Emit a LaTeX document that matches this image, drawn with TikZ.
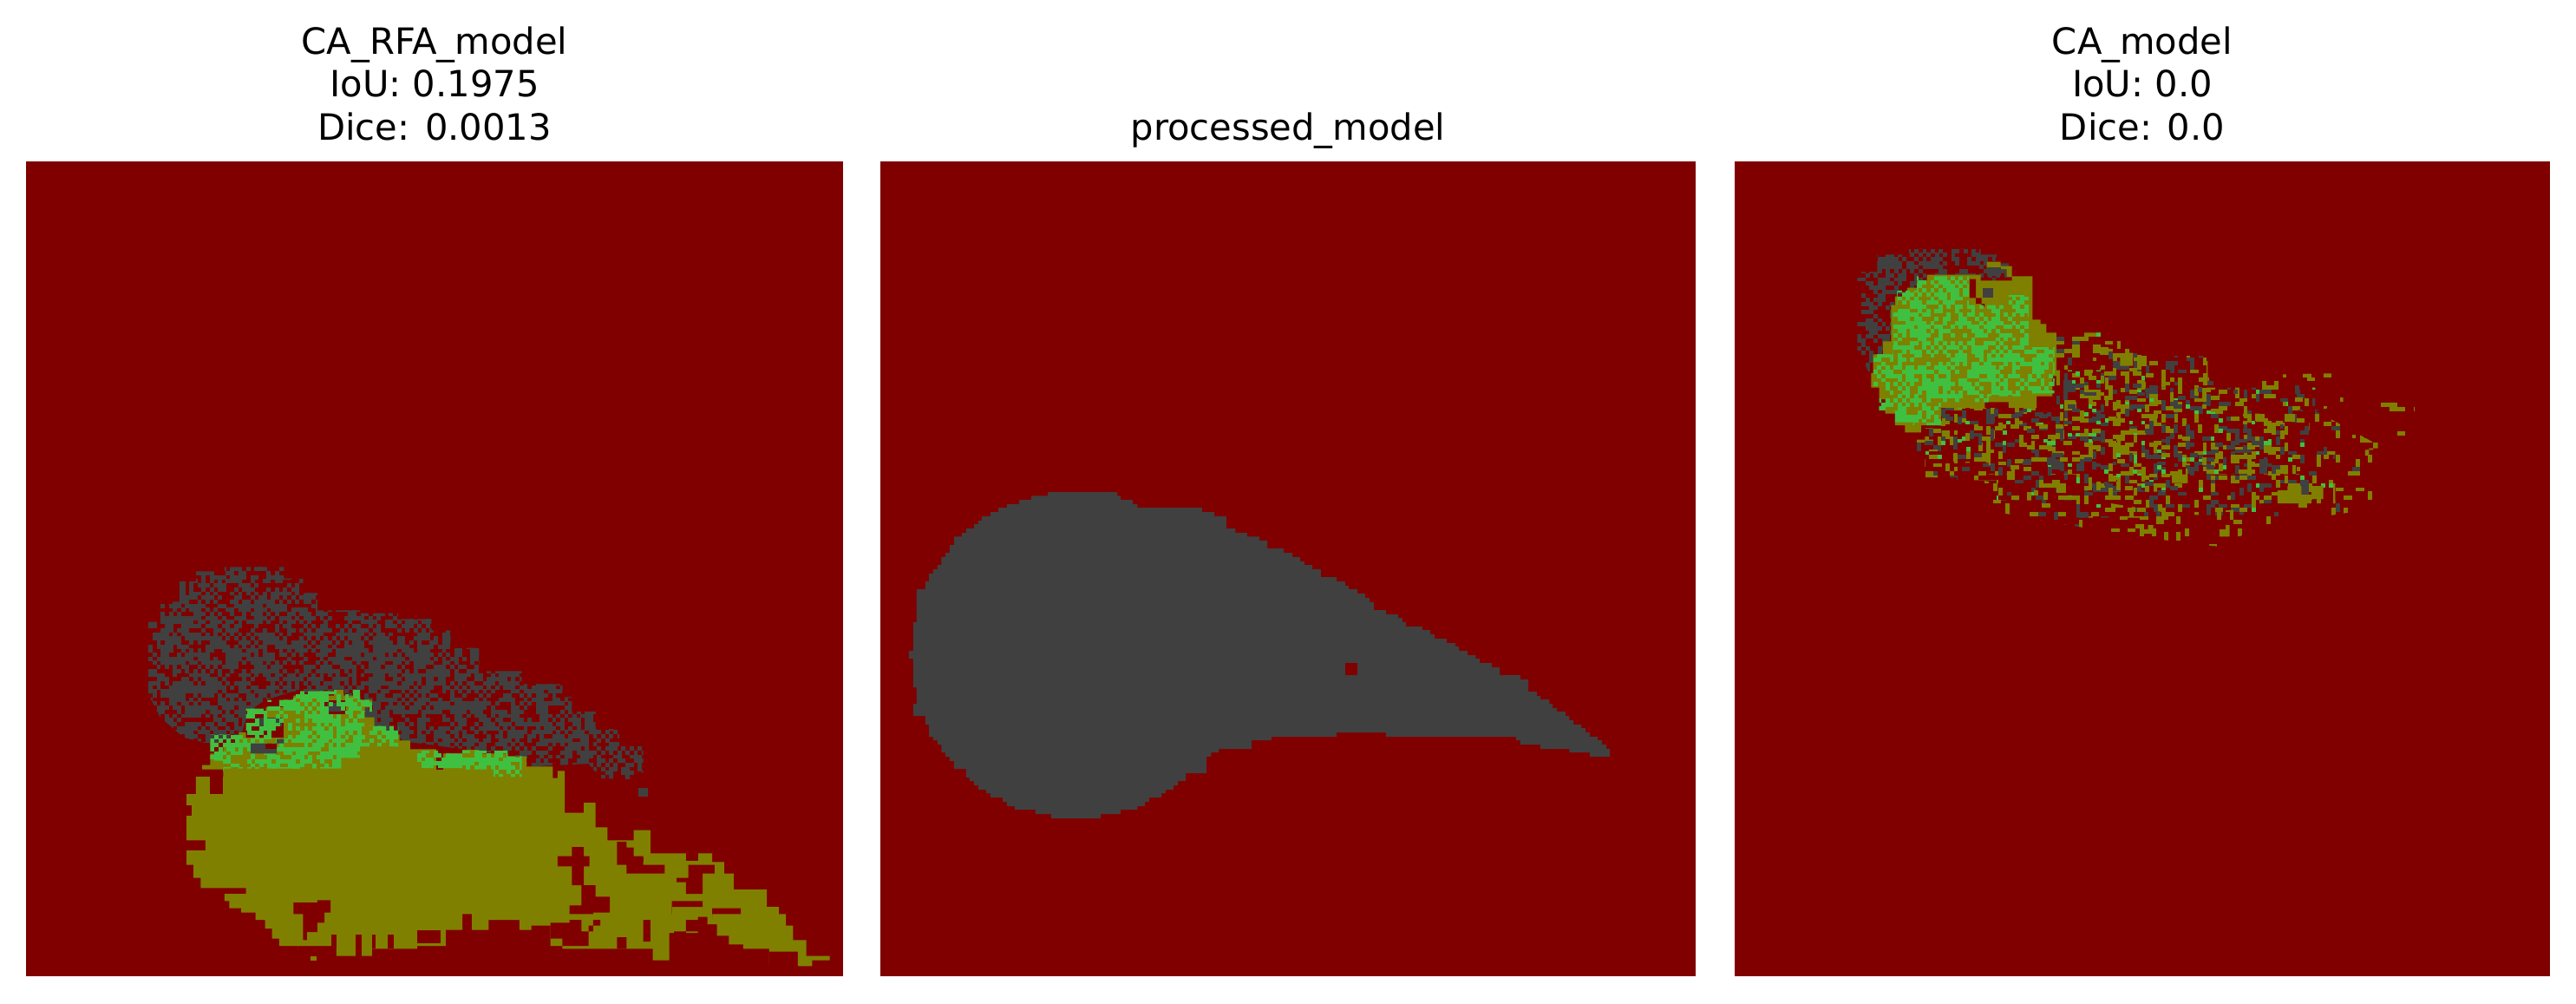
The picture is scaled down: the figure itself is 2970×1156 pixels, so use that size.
\documentclass[tikz,border=0pt]{standalone}
\usepackage{fontspec}
\setmainfont{DejaVu Sans}
\definecolor{bgred}{HTML}{800000}
\definecolor{segolive}{HTML}{808000}
\definecolor{segdark}{HTML}{404040}
\definecolor{seggreen}{HTML}{40C040}
\tikzset{
  titletext/.style={font=\fontsize{41.67}{50}\selectfont,anchor=base,inner sep=0pt,text=black},
  panelbg/.style={fill=bgred,draw=none},
  zoomA/.style={shift={(130,620)},xscale=0.5485,yscale=0.33333},
  zoomB/.style={shift={(1020,540)},xscale=0.5485,yscale=0.33333},
  zoomC/.style={shift={(2100,260)},xscale=0.4592,yscale=0.33333}
}
% one cell, with sometimes a diagonal neighbour
\newcommand{\cellat}[4]{% i j cw/ch colour: x0 y0 taken from \fx,\fy
  \fill[#4] ({\fx+#1*\fw},{\fy+#2*\fh}) rectangle +({\fw*1.04},{\fh*1.04});}
% xmin nx ymin ny cw ch p-even p-odd colour
\newcommand{\noisefield}[9]{%
  \def\fx{#1}\def\fy{#3}\def\fw{#5}\def\fh{#6}%
  \foreach \ii in {0,...,#2}{\foreach \jj in {0,...,#4}{%
    \pgfmathrandominteger{\rr}{0}{99}%
    \pgfmathrandominteger{\ss}{0}{9}%
    \ifodd\numexpr\ii+\jj\relax\def\pp{#8}\else\def\pp{#7}\fi
    \ifnum\rr<\pp\relax
      \cellat{\ii}{\jj}{}{#9}%
      \ifnum\ss<3\relax\cellat{(\ii+1)}{(\jj+1)}{}{#9}\fi
      \ifnum\ss>6\relax\cellat{(\ii+1)}{(\jj-1)}{}{#9}\fi
    \fi
  }}%
}
% xmin nx ymin ny pOlive pDark pGreen, zoom C cells
\newcommand{\tailfield}[7]{%
  \foreach \ii in {0,...,#2}{\foreach \jj in {0,...,#4}{%
    \pgfmathrandominteger{\rr}{0}{99}%
    \pgfmathrandominteger{\ss}{0}{9}%
    \ifnum\ss<5\relax\def\wd{20.5}\else\def\wd{10.3}\fi
    \ifnum\ss>5\relax\def\hd{28.2}\else\def\hd{14.1}\fi
    \ifnum\rr<#5\relax
      \fill[segolive] ({#1+\ii*10.24},{#3+\jj*14.1}) rectangle +(\wd,\hd);
    \else\ifnum\rr<\numexpr#5+#6\relax
      \fill[segdark] ({#1+\ii*10.24},{#3+\jj*14.1}) rectangle +(\wd,\hd);
    \else\ifnum\rr<\numexpr#5+#6+#7\relax
      \fill[seggreen] ({#1+\ii*10.24},{#3+\jj*14.1}) rectangle +(10.3,14.1);
    \fi\fi\fi
  }}%
}
\begin{document}
\begin{tikzpicture}[x=1pt,y=-1pt]
\useasboundingbox (0,0) rectangle (2970,1156);
\pgfmathsetseed{4711}

% titles
\node[titletext] (ta) at (501,62.7) {CA\_RFA\_model};
\node[titletext] (tb) at (501,111.7) {IoU: 0.1975};
\node[titletext] (tc) at (501,161.7) {Dice: 0.0013};
\node[titletext] (td) at (1485,161.7) {processed\_model};
\node[titletext] (te) at (2470,62.7) {CA\_model};
\node[titletext] (tf) at (2470,111.7) {IoU: 0.0};
\node[titletext] (tg) at (2470,161.7) {Dice: 0.0};

% panels
\fill[panelbg] (30,186) rectangle (972,1125);
\fill[panelbg] (1015,186) rectangle (1955,1125);
\fill[panelbg] (2000,186) rectangle (2940,1125);

% ---------- panel 1
\begin{scope}[zoomA]
  \begin{scope}
    \clip (75,380)|-(100,290)|-(140,220)|-(175,150)|-(235,115)|-(310,100)-|(360,140)-|(400,190)-|(430,250)-|(520,260)-|(600,280)-|(670,320)-|(710,380)-|(770,460)-|(860,505)-|(945,550)-|(965,600)-|(1015,660)-|(1065,720)-|(1115,810)--(1085,835)--(1025,830)--(1000,780)--(880,790)--(830,750)--(600,700)--(530,640)--(480,545)--(380,530)--(320,560)--(285,600)--(270,680)--(232,700)--(210,715)--(150,690)--(100,620)--(75,540)--cycle;
    \noisefield{75}{122}{100}{52}{8.57}{14.1}{66}{32}{segdark}
  \end{scope}
  \fill[segdark] (1105,865) rectangle (1125,895);
  % olive body
  \fill[segolive] (188,785) -| (205,745) -| (232,715) -| (265,672) -| (280,690) -| (290,640) -| (322,585) -| (358,560) -| (380,545) -| (412,530) -| (438,545) -| (465,525) -| (485,545) -| (520,560) -| (545,585) -| (530,620) -| (550,650) -| (575,680) -| (603,700) -| (625,730) -| (680,745) -| (735,732) -| (770,745) -| (830,755) -| (870,790) -| (905,790) -| (925,830) -| (935,805) -| (950,850) |- (960,950) -| (990,915) -| (1015,950) |- (1040,1000) |- (1055,1045) -| (1095,1010) -| (1130,1040) |- (1180,1090) -| (1260,1085) |- (1285,1120) |- (1305,1160) |- (1325,1215) -| (1375,1255) |- (1400,1275) |- (1415,1300) |- (1430,1340) |- (1458,1390) |- (1470,1445) -| (1507,1460) -| (1470,1480) -| (1440,1430) -| (1380,1475) -| (1380,1420) -| (1350,1420) -| (1325,1405) -| (1295,1375) -| (1270,1335) -| (1250,1310) -| (1230,1365) -| (1170,1460) -| (1135,1420) -| (1050,1420) -| (1020,1420) -| (945,1410) -| (920,1385) -| (920,1340) -| (880,1355) -| (855,1320) -| (815,1320) -| (790,1355) -| (755,1300) -| (735,1355) -| (700,1410) -| (640,1420) -| (545,1445) -| (500,1445) -| (470,1410) -| (420,1410) -| (390,1425) |- (350,1410) |- (335,1385) |- (320,1350) |- (300,1320) |- (270,1295) |- (245,1280) |- (235,1255) |- (245,1230) -| (285,1230) -| (280,1210) -| (190,1210) -| (185,1175) -| (170,1130) -| (155,1080) -| (195,1070) -| (195,1045) -| (155,1045) -| (155,885) -| (175,885) -| (175,825) -| (232,825) -| (232,800) -| cycle;
  \fill[segolive] (415,1445) rectangle (428,1460);
  % red holes in the olive
  \fill[bgred] (380,1260) -| (430,1252) -| (458,1295) -| (445,1330) -| (430,1362) -| (408,1390) -| (400,1300) -| (380,1275) -| cycle;
  \fill[bgred] (965,1068) -| (990,1100) -| (1002,1135) -| (990,1200) -| (1015,1240) -| (1045,1295) -| (1010,1300) -| (960,1270) -| (985,1200) -| (965,1135) -| (935,1100) -| cycle;
  \fill[bgred] (920,1330) -| (960,1320) -| (985,1360) -| (1010,1320) -| (1025,1340) -| (1000,1410) -| (960,1410) -| (945,1385) -| cycle;
  \fill[bgred] (1060,1050) -| (1080,1070) -| (1095,1100) -| (1115,1130) -| (1160,1160) -| (1080,1130) -| (1060,1100) -| cycle;
  \fill[bgred] (1185,1175) -| (1210,1130) -| (1265,1160) -| (1240,1230) -| (1205,1190) -| cycle;
  \fill[bgred] (1175,1255) -| (1240,1275) -| (1175,1300) -| cycle;
  \fill[bgred] (1260,1280) -| (1320,1300) -| (1260,1320) -| cycle;
  \fill[bgred] (1240,1320) -| (1205,1395) -| (1180,1360) -| cycle;
  \fill[bgred] (1115,1320) -| (1130,1395) -| (1115,1395) -- cycle;
  \fill[bgred] (1060,1380) -| (1080,1420) -| cycle;
  \fill[bgred] (1205,1090) rectangle (1230,1115);
  \fill[bgred] (1100,1105) rectangle (1115,1118);
  \fill[bgred] (680,745) rectangle (695,802);
  \fill[bgred] (460,1370) rectangle (470,1420);
  \fill[bgred] (510,1370) rectangle (524,1446);
  \fill[bgred] (545,1370) rectangle (552,1420);
  \fill[bgred] (578,1370) rectangle (590,1420);
  \fill[bgred] (640,1355) rectangle (690,1400);
  \fill[bgred] (205,825) rectangle (232,885);
  \fill[bgred] (155,925) rectangle (165,960);
  % red and dark intrusions in the hump, below the green
  \fill[bgred] (290,625) rectangle (360,690);
  \fill[bgred] (440,560) rectangle (490,610);
  \fill[segdark] (305,620) rectangle (355,650);
  \fill[segdark] (450,570) rectangle (480,600);
  % green noise
  \begin{scope}
    \clip (285,590)-|(325,560)-|(380,530)-|(465,525)-|(520,560)-|(545,600)-|(530,650)-|(600,700)|-(603,720)-|(520,760)-|(480,797)-|(232,808)|-(205,770)|-(232,680)-|(280,650)|-cycle;
    \noisefield{205}{46}{525}{20}{8.57}{14.1}{60}{36}{seggreen}
  \end{scope}
  \begin{scope}
    \clip (640,735)-|(690,745)-|(735,735)-|(830,755)-|(860,825)-|(800,800)-|(740,795)-|(640,770)-|cycle;
    \noisefield{640}{26}{730}{7}{8.57}{14.1}{66}{50}{seggreen}
  \end{scope}
  \fill[segdark] (290,710) -| (360,695) -| (345,745) -| cycle;
  \fill[bgred] (320,712) rectangle (345,728);
\end{scope}

% ---------- panel 2
\begin{scope}[zoomB]
  \fill[segdark] (343,81)--(489,81)--(489,94)--(496,94)--(496,108)--(521,108)--(521,123)--(531,123)--(531,135)--(667,135)--(667,150)--(693,150)--(693,165)--(718,165)--(718,207)--(737,207)--(737,222)--(762,222)--(762,235)--(788,235)--(788,249)--(804,249)--(804,276)--(839,276)--(839,291)--(857,291)--(857,306)--(873,306)--(873,321)--(882,321)--(882,333)--(899,333)--(899,348)--(917,348)--(917,375)--(950,375)--(950,390)--(968,390)--(968,405)--(975,405)--(975,417)--(994,417)--(994,432)--(1010,432)--(1010,447)--(1019,447)--(1019,462)--(1028,462)--(1028,489)--(1054,489)--(1054,504)--(1079,504)--(1079,516)--(1088,516)--(1088,531)--(1096,531)--(1096,546)--(1130,546)--(1130,558)--(1147,558)--(1147,573)--(1156,573)--(1156,588)--(1181,588)--(1181,603)--(1200,603)--(1200,615)--(1207,615)--(1207,630)--(1225,630)--(1225,645)--(1242,645)--(1242,657)--(1251,657)--(1251,672)--(1276,672)--(1276,687)--(1293,687)--(1293,714)--(1336,714)--(1336,729)--(1353,729)--(1353,771)--(1371,771)--(1371,786)--(1378,786)--(1378,798)--(1397,798)--(1397,813)--(1404,813)--(1404,828)--(1413,828)--(1413,840)--(1431,840)--(1431,855)--(1439,855)--(1439,870)--(1448,870)--(1448,885)--(1464,885)--(1464,897)--(1473,897)--(1473,912)--(1482,912)--(1482,927)--(1499,927)--(1499,939)--(1508,939)--(1508,954)--(1517,954)--(1517,969)--(1524,969)--(1524,996)--(1482,996)--(1482,981)--(1439,981)--(1439,969)--(1378,969)--(1378,954)--(1336,954)--(1336,939)--(1327,939)--(1327,927)--(1054,927)--(1054,912)--(950,912)--(950,927)--(813,927)--(813,939)--(771,939)--(771,969)--(702,969)--(702,981)--(686,981)--(686,996)--(676,996)--(676,1053)--(633,1053)--(633,1080)--(616,1080)--(616,1095)--(607,1095)--(607,1110)--(591,1110)--(591,1122)--(582,1122)--(582,1137)--(556,1137)--(556,1152)--(547,1152)--(547,1167)--(531,1167)--(531,1179)--(496,1179)--(496,1194)--(454,1194)--(454,1209)--(350,1209)--(350,1194)--(317,1194)--(317,1179)--(273,1179)--(273,1167)--(257,1167)--(257,1152)--(248,1152)--(248,1137)--(222,1137)--(222,1122)--(213,1122)--(213,1110)--(197,1110)--(197,1095)--(188,1095)--(188,1080)--(179,1080)--(179,1068)--(171,1068)--(171,1038)--(146,1038)--(146,1011)--(137,1011)--(137,996)--(128,996)--(128,981)--(119,981)--(119,954)--(111,954)--(111,939)--(102,939)--(102,927)--(93,927)--(93,885)--(86,885)--(86,855)--(60,855)--(60,813)--(67,813)--(67,756)--(60,756)--(60,657)--(51,657)--(51,630)--(60,630)--(60,531)--(67,531)--(67,417)--(86,417)--(86,390)--(93,390)--(93,363)--(102,363)--(102,348)--(111,348)--(111,333)--(119,333)--(119,306)--(128,306)--(128,291)--(137,291)--(137,264)--(146,264)--(146,235)--(162,235)--(162,222)--(171,222)--(171,207)--(188,207)--(188,192)--(197,192)--(197,180)--(204,180)--(204,165)--(222,165)--(222,150)--(239,150)--(239,135)--(257,135)--(257,123)--(283,123)--(283,108)--(308,108)--(308,94)--(343,94)--cycle;
  \fill[bgred] (968,672) rectangle (994,714);
\end{scope}

% ---------- panel 3
\begin{scope}[zoomC]
  % dark ring
  \begin{scope}
    \clip (90,270)|-(140,160)|-(220,100)|-(240,80)-|(340,80)-|(400,100)-|(440,130)-|(470,170)--(400,280)--(240,210)--(185,290)--(180,420)--(150,560)--(120,510)--(90,430)--(90,330)--cycle;
    \noisefield{90}{38}{80}{34}{10.24}{14.1}{50}{26}{segdark}
  \end{scope}
  % tail: sparse outer field
  \begin{scope}
    \clip (590,370)-|(740,390)-|(810,450)-|(970,560)-|(1240,640)-|(1225,770)-|(1290,830)-|(1290,960)-|(1100,1000)-|(900,1010)-|(640,950)-|(440,880)-|(340,870)-|(260,790)-|(230,740)-|(300,630)-|(580,560)-|cycle;
    \tailfield{230}{104}{370}{46}{10}{7}{2}
  \end{scope}
  % tail: dense part next to the blob
  \begin{scope}
    \clip (590,500)-|(700,420)-|(820,560)-|(1000,650)-|(1160,780)-|(1200,860)-|(900,920)-|(640,860)-|(420,820)-|(300,780)-|(260,700)-|(300,630)-|(590,590)-|cycle;
    \tailfield{260}{94}{420}{36}{9}{8}{3}
  \end{scope}
  \begin{scope}
    \clip (970,520)--(1310,510)--(1310,620)--(1240,640)--(1400,760)--(1390,900)--(1380,980)--(1100,1040)--(1000,1110)--(820,1080)--(640,1040)--(440,990)--(400,880)--(640,940)--(900,1000)--(1280,950)--(1280,830)--(1220,770)--(1230,650)--(970,570)--cycle;
    \tailfield{400}{98}{510}{42}{6}{1}{0}
  \end{scope}
  \begin{scope}
    \clip (1405,585) rectangle (1490,725);
    \tailfield{1405}{8}{585}{10}{10}{0}{0}
  \end{scope}
  % solid olive blob
  \fill[segolive] (130,445) -| (155,400) -| (175,340) |- (185,275) |- (215,245) |- (240,215) |- (265,190) |- (290,170) -| (372,170) -| (400,190) -| (478,175) -| (530,195) -| (530,290) |- (550,325) |- (565,340) |- (590,370) -| (590,520) -| (580,590) -| (540,630) -| (470,610) -| (410,630) -| (300,630) -| (300,690) -| (250,715) -| (210,690) -| (185,650) -| (160,600) -| (145,560) -| (125,510) -| cycle;
  % thin olive arc round the dark patch at the top
  \fill[segolive] (415,125) -| (450,140) -| (478,178) -| (465,150) -| (415,140) -| cycle;
  % notch at top of the blob
  \fill[bgred] (372,185) -| (388,270) -| (410,280) -| (402,250) -| (372,215) -| cycle;
  \fill[segdark] (405,215) rectangle (432,250);
  \fill[segdark] (415,145) rectangle (450,175);
  \begin{scope}
    \clip (130,445)-|(180,360)|-(190,275)|-(240,225)|-(290,175)-|(370,175)|-(400,275)-|(470,240)-|(520,340)-|(520,420)-|(585,500)|-(575,580)-|(500,590)-|(420,610)-|(300,690)-|(230,680)-|(185,640)-|(145,560)-|cycle;
    \noisefield{130}{45}{160}{39}{10.24}{14.1}{56}{30}{seggreen}
  \end{scope}
  % chunks
  \fill[segolive] (750,455) -| (765,440) -| (782,485) -| (750,470) -| cycle;
  \fill[segolive] (800,450) rectangle (817,485);
  \fill[segolive] (1145,915) -| (1170,900) -| (1205,930) -| (1230,900) -| (1260,945) -| (1230,960) -| (1145,945) -| cycle;
  \fill[segolive] (880,860) -| (915,840) -| (920,890) -| (880,885) -| cycle;
  \fill[segolive] (1162,650) rectangle (1190,678);
  \fill[segolive] (1090,650) rectangle (1112,678);
  \fill[segolive] (1365,775) -| (1385,750) -| (1397,770) -| (1375,795) -| cycle;
  \fill[segolive] (590,890) rectangle (615,925);
  \fill[segolive] (808,1050) -| (820,1035) -| (833,1065) -| (808,1078) -| cycle;
  \fill[segolive] (1000,1050) -| (1015,1035) -| (1025,1075) -| (1000,1062) -| cycle;
\end{scope}
\end{tikzpicture}
\end{document}
